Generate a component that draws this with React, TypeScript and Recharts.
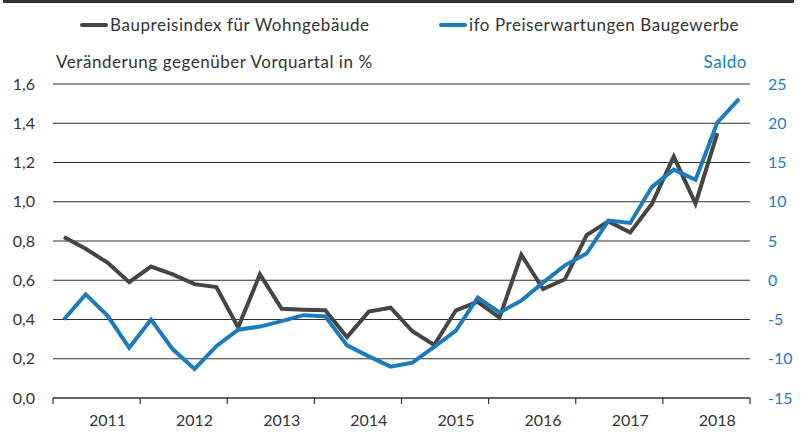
import React from "react";
import { LineChart, Line, XAxis, YAxis, CartesianGrid } from "recharts";

// quarters 2011 Q1 .. 2018 Q4
const quarters = [
  "2011Q1", "2011Q2", "2011Q3", "2011Q4",
  "2012Q1", "2012Q2", "2012Q3", "2012Q4",
  "2013Q1", "2013Q2", "2013Q3", "2013Q4",
  "2014Q1", "2014Q2", "2014Q3", "2014Q4",
  "2015Q1", "2015Q2", "2015Q3", "2015Q4",
  "2016Q1", "2016Q2", "2016Q3", "2016Q4",
  "2017Q1", "2017Q2", "2017Q3", "2017Q4",
  "2018Q1", "2018Q2", "2018Q3", "2018Q4",
];

// Baupreisindex für Wohngebäude, % gegenüber Vorquartal
const baupreis = [
  0.82, 0.76, 0.69, 0.59,
  0.67, 0.63, 0.58, 0.565,
  0.36, 0.63, 0.455, 0.45,
  0.447, 0.31, 0.44, 0.46,
  0.34, 0.27, 0.447, 0.49,
  0.41, 0.73, 0.555, 0.605,
  0.83, 0.9, 0.843, 0.99,
  1.23, 0.99, 1.35, null,
];

// ifo Preiserwartungen Baugewerbe, Saldo
const ifoSaldo = [
  -5.0, -1.8, -4.5, -8.6,
  -5.0, -8.8, -11.3, -8.4,
  -6.3, -5.9, -5.2, -4.45,
  -4.6, -8.3, -9.7, -11.0,
  -10.5, -8.5, -6.4, -2.2,
  -4.1, -2.6, -0.3, 1.9,
  3.4, 7.6, 7.3, 11.9,
  14.1, 12.8, 20.1, 23.1,
];

const years = ["2011", "2012", "2013", "2014", "2015", "2016", "2017", "2018"];
const leftTicks = [0, 0.2, 0.4, 0.6, 0.8, 1.0, 1.2, 1.4, 1.6];
const rightTicks = [-15, -10, -5, 0, 5, 10, 15, 20, 25];

const W = 803;
const H = 432;
const PLOT_LEFT = 53;
const PLOT_RIGHT = 750;
const QUARTER_W = (PLOT_RIGHT - PLOT_LEFT) / quarters.length;

const GREY = "#454545";
const BLUE = "#1b7bc0";
const FONT = "Lato, 'Noto Sans', sans-serif";
const TITLE_STYLE = { fontSize: 17, letterSpacing: 0.55, fontFamily: FONT };

const data = quarters.map((q, i) => ({
  q,
  x: i + 0.5,
  bau: baupreis[i],
  ifo: ifoSaldo[i],
}));

const YearTick = (props: any) => {
  const { x, y, payload } = props;
  const idx = payload.value / 4;
  const label = years[idx];
  return (
    <g>
      <line x1={x} y1={y} x2={x} y2={y + 6} stroke="#333" strokeWidth={1.2} />
      {label && (
        <text
          x={x + 2.5 * QUARTER_W}
          y={y + 28}
          textAnchor="middle"
          fill="#333"
          fontSize={16}
          fontFamily={FONT}
        >
          {label}
        </text>
      )}
    </g>
  );
};

const LegendItem = ({ color, text, left }: { color: string; text: string; left: number }) => (
  <div style={{ position: "absolute", left, top: 14, display: "flex", alignItems: "center" }}>
    <div style={{ width: 28, height: 4, background: color, borderRadius: 2 }} />
    <span style={{ marginLeft: 2, color: "#333", ...TITLE_STYLE }}>{text}</span>
  </div>
);

export default function App() {
  return (
    <div style={{ position: "absolute", left: 0, top: 0, width: W, height: H, background: "#fff" }}>
      <div style={{ position: "absolute", left: 3, top: 0, width: 791, height: 3, background: "#333" }} />
      <LegendItem color={GREY} text="Baupreisindex für Wohngebäude" left={80} />
      <LegendItem color={BLUE} text="ifo Preiserwartungen Baugewerbe" left={439} />
      <div style={{ position: "absolute", left: 56, top: 51, color: "#333", ...TITLE_STYLE }}>
        Veränderung gegenüber Vorquartal in %
      </div>
      <div style={{ position: "absolute", right: 803 - 747, top: 51, color: BLUE, ...TITLE_STYLE }}>
        Saldo
      </div>
      <LineChart
        width={W}
        height={H}
        data={data}
        margin={{ top: 84, right: 0, left: 0, bottom: 0 }}
        style={{ position: "absolute", left: 0, top: 0 }}
      >
        <CartesianGrid yAxisId="left" vertical={false} stroke="#2f2f2f" strokeWidth={1} />
        <XAxis
          dataKey="x"
          type="number"
          domain={[0, 32]}
          ticks={[0, 4, 8, 12, 16, 20, 24, 28, 32]}
          interval={0}
          height={34}
          axisLine={{ stroke: "#333", strokeWidth: 1.2 }}
          tickLine={false}
          tickSize={0}
          tickMargin={0}
          tick={<YearTick />}
        />
        <YAxis
          yAxisId="left"
          orientation="left"
          width={PLOT_LEFT}
          domain={[0, 1.6]}
          ticks={leftTicks}
          interval={0}
          axisLine={false}
          tickLine={false}
          tickSize={0}
          tickMargin={18}
          tickFormatter={(v: number) => v.toFixed(1).replace(".", ",")}
          tick={{ fill: "#333", fontSize: 16, fontFamily: FONT }}
        />
        <YAxis
          yAxisId="right"
          orientation="right"
          width={W - PLOT_RIGHT}
          domain={[-15, 25]}
          ticks={rightTicks}
          interval={0}
          axisLine={false}
          tickLine={false}
          tickSize={0}
          tickMargin={18}
          tick={{ fill: BLUE, fontSize: 16, fontFamily: FONT, textAnchor: "start" }}
        />
        <Line
          yAxisId="left"
          dataKey="bau"
          stroke={GREY}
          strokeWidth={4}
          dot={false}
          connectNulls={false}
          isAnimationActive={false}
        />
        <Line
          yAxisId="right"
          dataKey="ifo"
          stroke={BLUE}
          strokeWidth={4}
          dot={false}
          isAnimationActive={false}
        />
      </LineChart>
    </div>
  );
}
